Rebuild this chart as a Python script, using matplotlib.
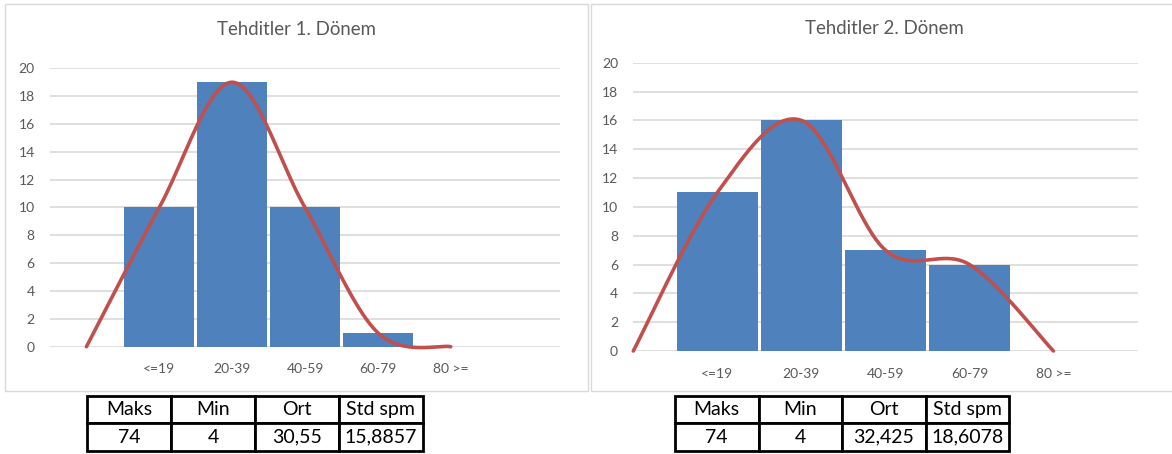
import numpy as np
import matplotlib
matplotlib.use('Agg')
import matplotlib.pyplot as plt
from matplotlib.patches import Rectangle

plt.rcParams['font.family'] = ['Lato', 'DejaVu Sans']

# data
categories = ["<=19", "20-39", "40-59", "60-79", "80 >="]
counts_1 = [10, 19, 10, 1, 0]
counts_2 = [11, 16, 7, 6, 0]
titles = ["Tehditler 1. Dönem", "Tehditler 2. Dönem"]
table_header = ["Maks", "Min", "Ort", "Std spm"]
table_row_1 = ["74", "4", "30,55", "15,8857"]
table_row_2 = ["74", "4", "32,425", "18,6078"]

BAR = '#4F81BD'
LINE = '#C0504D'
GRID = '#D9D9D9'
TXT = '#595959'
W, H = 1172, 454


def smooth(xs, ys, n=40):
    # Catmull-Rom through the points (like Excel's smoothed line)
    p = np.column_stack([xs, ys]).astype(float)
    p = np.vstack([p[0], p, p[-1]])
    out = []
    t = np.linspace(0, 1, n)[:, None]
    for i in range(1, len(p) - 2):
        p0, p1, p2, p3 = p[i - 1], p[i], p[i + 1], p[i + 2]
        m1 = (p2 - p0) / 2
        m2 = (p3 - p1) / 2
        h00 = 2 * t**3 - 3 * t**2 + 1
        h10 = t**3 - 2 * t**2 + t
        h01 = -2 * t**3 + 3 * t**2
        h11 = t**3 - t**2
        out.append(h00 * p1 + h10 * m1 + h01 * p2 + h11 * m2)
    seg = np.vstack(out)
    return seg[:, 0], seg[:, 1]


def px_box(x0, y0, x1, y1):
    # pixel box (top-left origin) -> figure fraction rect
    return [x0 / W, 1 - y1 / H, (x1 - x0) / W, (y1 - y0) / H]


fig = plt.figure(figsize=(W / 100, H / 100), dpi=100)

# chart frames
for x0, x1 in [(5, 588), (591, 1180)]:
    fig.patches.append(Rectangle((x0 / W, 1 - 391 / H), (x1 - x0) / W, 387 / H,
                                 transform=fig.transFigure, fill=False,
                                 edgecolor=GRID, linewidth=1.0))

panels = [
    (counts_1, px_box(50, 68.3, 560, 346.7), (-1.5, 5.5), 296.5, 29.5, table_row_1, (87.3, 422.7)),
    (counts_2, px_box(633.3, 62.7, 1137.5, 351), (-1.0, 5.0), 884, 28.5, table_row_2, (675, 1009)),
]

for (counts, rect, xlim, tx, ty, row, (tx0, tx1)), title in zip(panels, titles):
    ax = fig.add_axes(rect)
    pos = np.arange(len(categories))
    ax.bar(pos, counts, width=0.96, color=BAR, zorder=2)
    lx, ly = smooth(np.arange(-1, len(categories)), [0] + counts)
    ax.plot(lx, ly, color=LINE, linewidth=2.6, solid_capstyle='round', zorder=3, clip_on=False)
    ax.set_xlim(*xlim)
    ax.set_ylim(0, 20)
    ax.set_yticks(range(0, 21, 2))
    ax.set_xticks(pos)
    ax.set_xticklabels(categories)
    ax.yaxis.grid(True, color=GRID, linewidth=1.2, zorder=0)
    ax.set_axisbelow(True)
    for s in ax.spines.values():
        s.set_visible(False)
    ax.tick_params(axis='both', length=0, colors=TXT, labelsize=10)
    ax.tick_params(axis='y', pad=11)
    ax.tick_params(axis='x', pad=12)
    fig.text(tx / W, 1 - ty / H, title, ha='center', va='center', fontsize=13.4, color=TXT)

    # stats table under the chart
    tax = fig.add_axes(px_box(tx0, 396, tx1, 450.7))
    tab = tax.table(cellText=[table_header, row], cellLoc='center', bbox=[0, 0, 1, 1])
    tab.auto_set_font_size(False)
    for cell in tab.get_celld().values():
        cell.set_linewidth(2.0)
        cell.set_edgecolor('black')
        cell.get_text().set_fontsize(14)
    tax.axis('off')

plt.savefig('out.png', dpi=100)
plt.close()
